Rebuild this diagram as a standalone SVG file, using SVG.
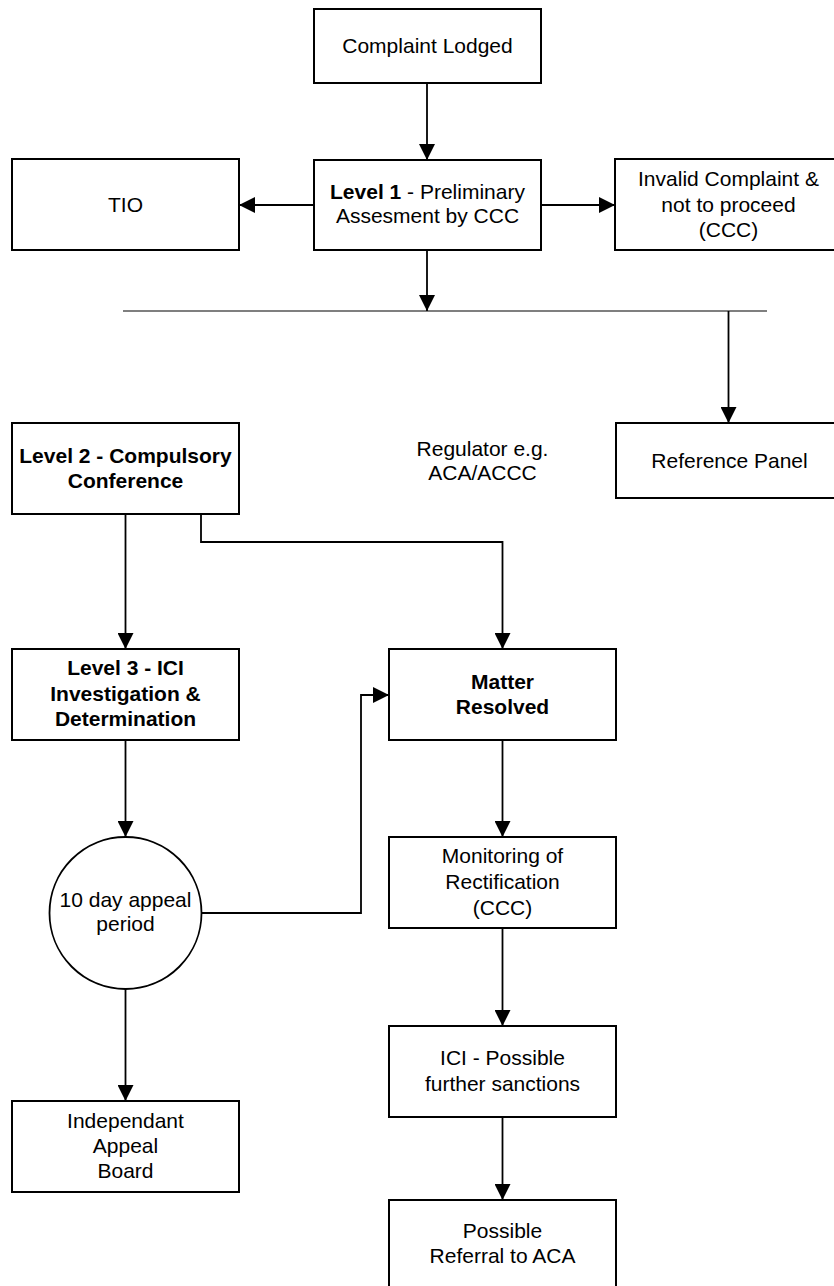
<svg xmlns="http://www.w3.org/2000/svg" width="834" height="1286" viewBox="0 0 834 1286">
<style>
.box{fill:#fff;stroke:#000;stroke-width:2}
.t{font-family:"Liberation Sans",Arial,sans-serif;font-size:21px;fill:#000;text-anchor:middle}
.b{font-weight:bold}
.c{fill:none;stroke:#000;stroke-width:1.8}
.bar{fill:none;stroke:#000;stroke-width:1.2}
</style>
<defs>
<marker id="ah" markerUnits="userSpaceOnUse" markerWidth="16" markerHeight="16" refX="16" refY="8" orient="auto">
<path d="M0,0 L16,8 L0,16 z" fill="#000"/>
</marker>
</defs>
<rect width="834" height="1286" fill="#fff"/>
<g id="connectors">
<path class="c" d="M427,83 V160" marker-end="url(#ah)"/>
<path class="c" d="M314,205 H239" marker-end="url(#ah)"/>
<path class="c" d="M541,205 H615" marker-end="url(#ah)"/>
<path class="c" d="M427,250 V311" marker-end="url(#ah)"/>
<path class="bar" d="M123,311 H767"/>
<path class="c" d="M728.5,311 V423" marker-end="url(#ah)"/>
<path class="c" d="M125.5,514 V649" marker-end="url(#ah)"/>
<path class="c" d="M201,514 V542 H502.5 V649" marker-end="url(#ah)"/>
<path class="c" d="M125.5,740 V837" marker-end="url(#ah)"/>
<path class="c" d="M202,913 H361 V695 H389" marker-end="url(#ah)"/>
<path class="c" d="M125.5,989 V1101" marker-end="url(#ah)"/>
<path class="c" d="M502.5,740 V837" marker-end="url(#ah)"/>
<path class="c" d="M502.5,928 V1026" marker-end="url(#ah)"/>
<path class="c" d="M502.5,1117 V1200" marker-end="url(#ah)"/>
</g>
<g id="complaint">
<rect class="box" x="314" y="9" width="227" height="74"/>
<text class="t" x="427.5" y="53">Complaint Lodged</text>
</g>
<g id="level1">
<rect class="box" x="314" y="160" width="227" height="90"/>
<text class="t" x="427.5" y="199"><tspan class="b">Level 1</tspan> - Preliminary</text>
<text class="t" x="427.5" y="223">Assesment by CCC</text>
</g>
<g id="tio">
<rect class="box" x="12" y="159" width="227" height="91"/>
<text class="t" x="125.5" y="212">TIO</text>
</g>
<g id="invalid">
<rect class="box" x="615" y="159" width="227" height="91"/>
<text class="t" x="728.5" y="186">Invalid Complaint &amp;</text>
<text class="t" x="728.5" y="211.5">not to proceed</text>
<text class="t" x="728.5" y="237">(CCC)</text>
</g>
<g id="level2">
<rect class="box" x="12" y="423" width="227" height="91"/>
<text class="t b" x="125.5" y="463">Level 2 - Compulsory</text>
<text class="t b" x="125.5" y="488">Conference</text>
</g>
<g id="regulator">
<text class="t" x="482.5" y="456">Regulator e.g.</text>
<text class="t" x="482.5" y="480">ACA/ACCC</text>
</g>
<g id="reference">
<rect class="box" x="616" y="423" width="227" height="75"/>
<text class="t" x="729.5" y="468">Reference Panel</text>
</g>
<g id="level3">
<rect class="box" x="12" y="649" width="227" height="91"/>
<text class="t b" x="125.5" y="675">Level 3 - ICI</text>
<text class="t b" x="125.5" y="700.5">Investigation &amp;</text>
<text class="t b" x="125.5" y="726">Determination</text>
</g>
<g id="matter">
<rect class="box" x="389" y="649" width="227" height="91"/>
<text class="t b" x="502.5" y="689">Matter</text>
<text class="t b" x="502.5" y="714">Resolved</text>
</g>
<g id="appeal">
<circle cx="125.5" cy="913" r="76" fill="#fff" stroke="#000" stroke-width="1.8"/>
<text class="t" x="125.5" y="907">10 day appeal</text>
<text class="t" x="125.5" y="931">period</text>
</g>
<g id="monitoring">
<rect class="box" x="389" y="837" width="227" height="91"/>
<text class="t" x="502.5" y="863">Monitoring of</text>
<text class="t" x="502.5" y="889">Rectification</text>
<text class="t" x="502.5" y="915">(CCC)</text>
</g>
<g id="ici">
<rect class="box" x="389" y="1026" width="227" height="91"/>
<text class="t" x="502.5" y="1065">ICI - Possible</text>
<text class="t" x="502.5" y="1090.5">further sanctions</text>
</g>
<g id="independent">
<rect class="box" x="12" y="1101" width="227" height="91"/>
<text class="t" x="125.5" y="1128">Independant</text>
<text class="t" x="125.5" y="1153">Appeal</text>
<text class="t" x="125.5" y="1178">Board</text>
</g>
<g id="possible">
<rect class="box" x="389" y="1200" width="227" height="91"/>
<text class="t" x="502.5" y="1238">Possible</text>
<text class="t" x="502.5" y="1263">Referral to ACA</text>
</g>
</svg>
